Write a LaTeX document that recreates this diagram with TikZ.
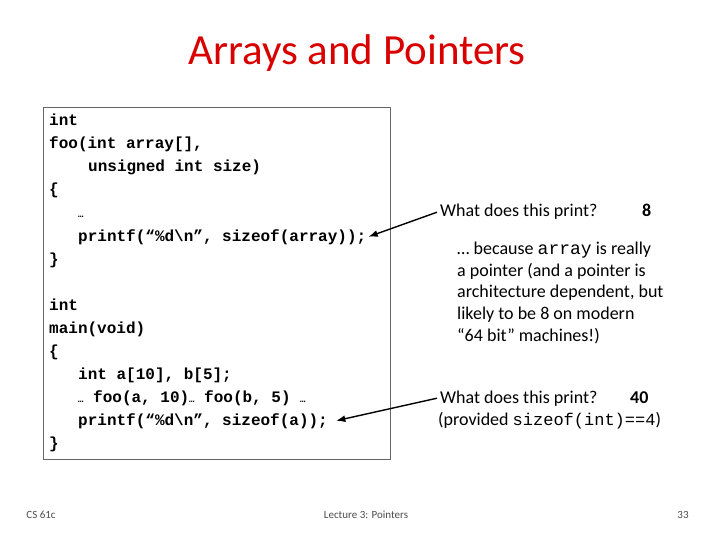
\documentclass[tikz,border=0pt]{standalone}
\usepackage{fontspec}
\setmainfont{Carlito}
\newfontfamily\codefont{Liberation Mono}
\usetikzlibrary{arrows.meta}

\begin{document}
\begin{tikzpicture}[x=1pt, y=-1pt, >=Latex,
    code/.style = {anchor=base west, inner sep=0pt, font=\codefont\bfseries\fontsize{16}{16}\selectfont},
    note/.style = {anchor=base west, inner sep=0pt, font=\fontsize{18}{21.6}\selectfont},
    foot/.style = {inner sep=0pt, font=\fontsize{11}{11}\selectfont, text=black!70}
]

    % Page size.
    \useasboundingbox (0,0) rectangle (720,540);

    % Title.
    \node[inner sep=0pt, text=red!85!black, font=\fontsize{43}{43}\selectfont] (title) at (357,53) {Arrays and Pointers};

    % The code box.
    \draw[draw=black!60, line width=1pt] (43,108) rectangle (390,459);

    \node[code] (c1) at (49,126) {int};
    \node[code] (c2) at (49,149) {foo(int array[],};
    \node[code] (c3) at (88,172) {unsigned int size)};
    \node[code] (c4) at (49,195) {\{};
    \node[code] (c5) at (78,218) {\fontsize{9}{9}\selectfont\ldots};
    \node[code] (c6) at (78,241) {printf(“\%d\textbackslash n”, sizeof(array));};
    \node[code] (c7) at (49,264) {\}};
    \node[code] (c8) at (49,310) {int};
    \node[code] (c9) at (49,333) {main(void)};
    \node[code] (c10) at (49,356) {\{};
    \node[code] (c11) at (78,379) {int a[10], b[5];};
    \node[code] (c12) at (78,402) {{\fontsize{9}{9}\selectfont\ldots} foo(a, 10){\fontsize{9}{9}\selectfont\ldots} foo(b, 5) {\fontsize{9}{9}\selectfont\ldots}};
    \node[code] (c13) at (78,425) {printf(“\%d\textbackslash n”, sizeof(a));};
    \node[code] (c14) at (49,448) {\}};

    % Notes on the right.
    \node[note] (q1) at (440,217) {What does this print?};
    \node[note, font=\bfseries\fontsize{18}{21.6}\selectfont] (a1) at (642,217) {8};
    \node[note, align=left, anchor=north west] (why) at (457,242)
        {\ldots{} because {\codefont array} is really\\
         a pointer (and a pointer is\\
         architecture dependent, but\\
         likely to be 8 on modern\\
         “64 bit” machines!)};
    \node[note] (q2) at (440,403) {What does this print?};
    \node[note, font=\bfseries\fontsize{18}{21.6}\selectfont] (a2) at (630,403) {40};
    \node[note] (q3) at (438,425) {(provided {\codefont\fontsize{17}{20}\selectfont sizeof(int)==4})};

    % Arrows from the questions to the code.
    \draw[->, line width=1.4pt] ([xshift=-3pt]q1.west) -- ([xshift=2pt]c6.east);
    \draw[->, line width=1.4pt] ([xshift=-3pt]q2.west) -- ([xshift=8pt]c13.east);

    % Footer.
    \node[foot] (course) at (41,515) {CS 61c};
    \node[foot] (lecture) at (366,515) {Lecture 3: Pointers};
    \node[foot] (page) at (683,515) {33};
\end{tikzpicture}
\end{document}
